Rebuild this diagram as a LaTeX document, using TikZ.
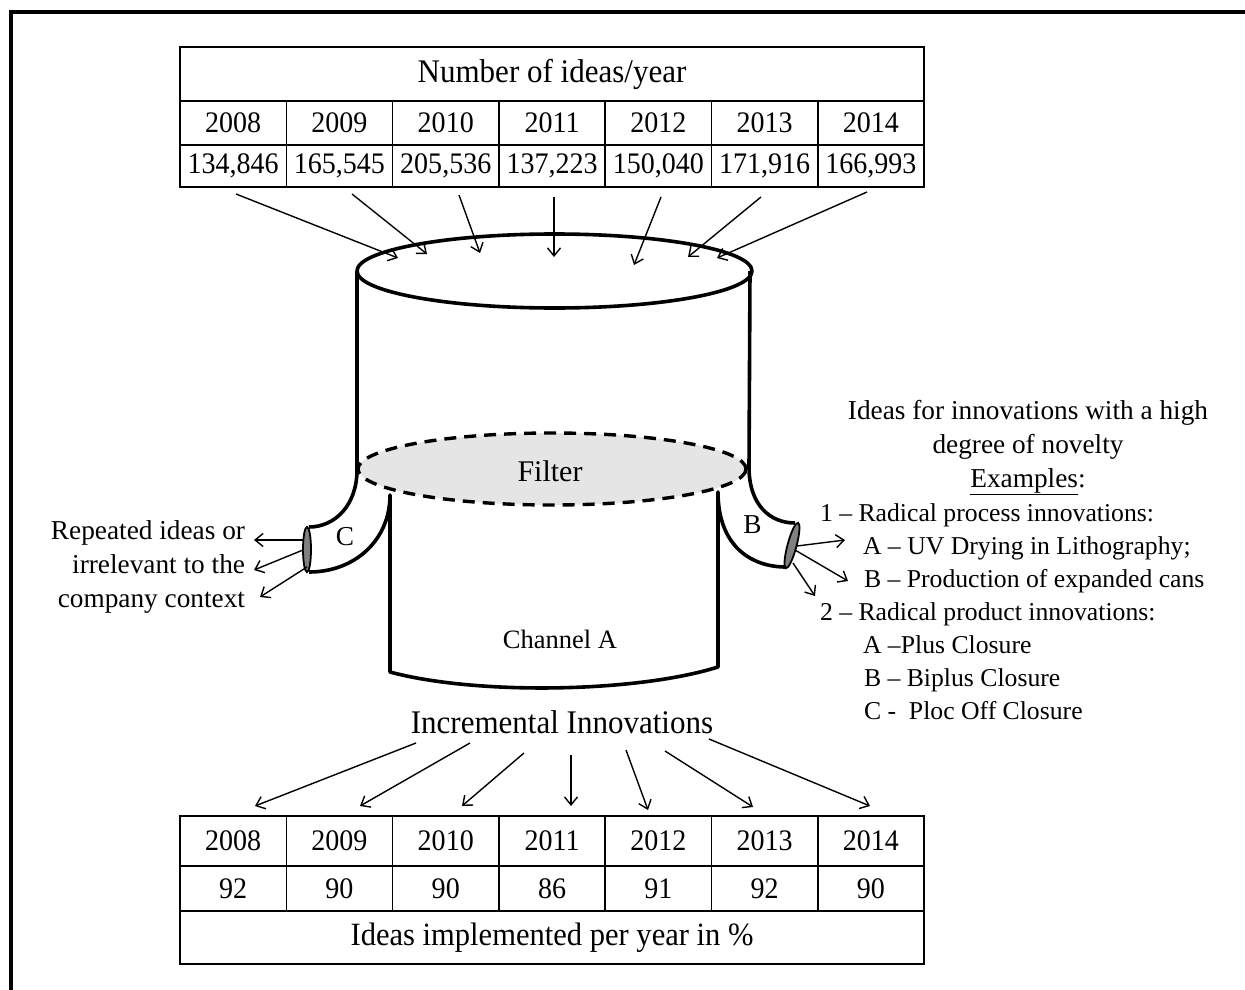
\documentclass[tikz,border=0pt]{standalone}
\usepackage{fontspec}
\setmainfont{Liberation Serif}
\newfontfamily\tabfont{Liberation Serif}[FakeStretch=0.94]
\usetikzlibrary{arrows.meta}

\begin{document}
\begin{tikzpicture}[
      x=1pt, y=-1pt,
      >={Straight Barb[length=8pt,width=13pt]},
      every node/.style={inner sep=0pt, outer sep=0pt},
      cell/.style={draw, line width=1.5pt, minimum width=106.3pt, minimum height=#1,
        font=\tabfont\fontsize{29.8}{32}\selectfont},
      cell/.default=44pt,
      head/.style={draw, line width=1.5pt, minimum width=744.1pt, minimum height=#1},
      wall/.style={line width=3.6pt, line join=round},
      filt/.style={line width=3.4pt, dash pattern=on 12pt off 8pt, fill=black!10},
      pipeend/.style={line width=1.8pt, fill=black!50},
      arr/.style={->, line width=1.4pt},
      lbl/.style={font=\fontsize{27.3}{30}\selectfont},
      item/.style={font=\fontsize{25.7}{28}\selectfont, anchor=base west},
    ]
      \useasboundingbox (0,0) rectangle (1245,990);
      \draw[line width=3.5pt] (1248,12) -- (11,12) -- (11,993);

      \node[head=54pt, font=\tabfont\fontsize{33}{36}\selectfont] (ttl) at (552.05,74) {Number of ideas/year};
      \foreach \yr/\val [count=\i] in {2008/{134,846},2009/{165,545},2010/{205,536},2011/{137,223},2012/{150,040},2013/{171,916},2014/{166,993}}{
        \node[cell=44pt] (ty\i) at ({126.85+106.3*\i},123) {\yr};
        \node[cell=42pt] (tv\i) at ({126.85+106.3*\i},166) {\val};
      }

      \node[head=53pt, font=\tabfont\fontsize{32.5}{35}\selectfont] (btl) at (552.05,937.5) {Ideas implemented per year in \%};
      \foreach \yr/\val [count=\i] in {2008/92,2009/90,2010/90,2011/86,2012/91,2013/92,2014/90}{
        \node[cell=50pt] (by\i) at ({126.85+106.3*\i},841) {\yr};
        \node[cell=45pt] (bv\i) at ({126.85+106.3*\i},888.5) {\val};
      }

      \draw[wall] (357,271) -- (357,470) .. controls (357,505) and (335,527) .. (309,527);
      \draw[wall] (750,271) -- (749,467) .. controls (749,505) and (770,523) .. (795,523);
      \draw[wall] (309,572) .. controls (355,572) and (390,540) .. (390,495) -- (390,672)
        .. controls (475,695) and (635,693) .. (718,667) -- (718,492)
        .. controls (718,545) and (750,567) .. (786,567);
      \draw[filt] (552,469) ellipse (194 and 36);
      \draw[wall] (554.5,271) ellipse (197.5 and 37);
      \draw[pipeend] (307,549.5) ellipse (4 and 22.5);
      \draw[pipeend, rotate around={-15:(792,545.5)}] (792,545.5) ellipse (4.5 and 23.5);

      \node[font=\fontsize{30}{32}\selectfont, anchor=base] (filter) at (550,481) {Filter};
      \node[font=\fontsize{26.5}{28}\selectfont, anchor=base] (chA) at (560,648) {Channel A};
      \node[lbl, anchor=base] (pipeC) at (345,545) {C};
      \node[lbl, anchor=base] (pipeB) at (752.5,533) {B};
      \node[font=\tabfont\fontsize{33}{36}\selectfont, anchor=base] (incr) at (562,733) {Incremental Innovations};

      \foreach \i/\sx/\sy/\ex/\ey in {1/236/194/398/258,2/352/194/427/254,3/459/195/480/253,4/554/197/554/257,5/661/197/634/265,6/761/197/688/257,7/867/192/717/258}{
        \coordinate (src\i) at (\sx,\sy);
        \coordinate (dst\i) at (\ex,\ey);
        \draw[arr] (src\i) -- (dst\i);
      }
      \foreach \i/\sx/\sy/\ex/\ey in {1/416/743/255/806,2/470/743/360/806,3/524/753/462/806,4/571/755/571/806,5/626/750/648/810,6/665/751/753/807,7/709/739/870/806}{
        \coordinate (inc\i) at (\sx,\sy);
        \coordinate (imp\i) at (\ex,\ey);
        \draw[arr] (inc\i) -- (imp\i);
      }
      \foreach \i/\sx/\sy/\ex/\ey in {1/303/540/254/540,2/303/550/254/570,3/307/567/260/597}{
        \coordinate (cout\i) at (\sx,\sy);
        \coordinate (rej\i) at (\ex,\ey);
        \draw[arr] (cout\i) -- (rej\i);
      }
      \foreach \i/\sx/\sy/\ex/\ey in {1/797/546/845/540,2/795/550/848/581,3/793/563/815/596}{
        \coordinate (bout\i) at (\sx,\sy);
        \coordinate (rad\i) at (\ex,\ey);
        \draw[arr] (bout\i) -- (rad\i);
      }

      \node[lbl, anchor=base east] (rep1) at (245,539) {Repeated ideas or};
      \node[lbl, anchor=base east] (rep2) at (245,573) {irrelevant to the};
      \node[lbl, anchor=base east] (rep3) at (245,607) {company context};

      \node[lbl, anchor=base] (nov1) at (1028,419) {Ideas for innovations with a high};
      \node[lbl, anchor=base] (nov2) at (1028,453) {degree of novelty};
      \node[lbl, anchor=base] (nov3) at (1028,487) {\underline{Examples}:};
      \node[item] (ex1) at (820,521) {1 -- Radical process innovations:};
      \node[item] (ex1a) at (863,554) {A -- UV Drying in Lithography;};
      \node[item] (ex1b) at (864,587) {B -- Production of expanded cans};
      \node[item] (ex2) at (820,620) {2 -- Radical product innovations:};
      \node[item] (ex2a) at (863,653) {A --Plus Closure};
      \node[item] (ex2b) at (864,686) {B -- Biplus Closure};
      \node[item] (ex2c) at (864,719) {C -\ \ Ploc Off Closure};
    \end{tikzpicture}
\end{document}
